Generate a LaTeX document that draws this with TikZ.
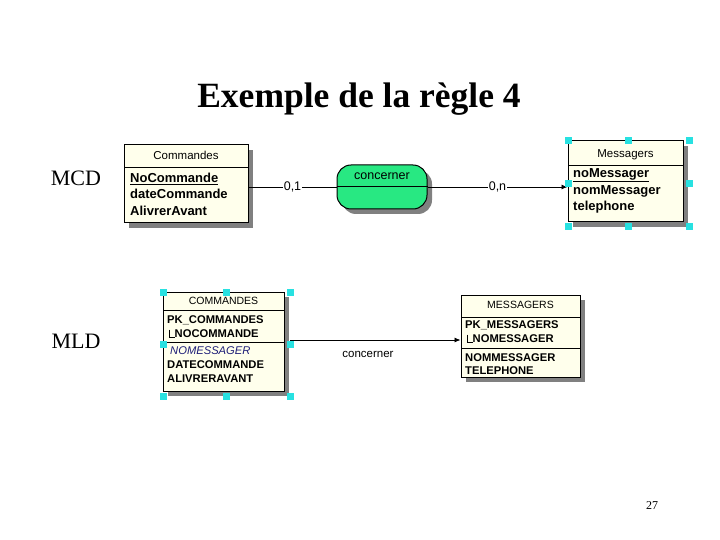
\documentclass[tikz,border=0pt]{standalone}
\usepackage{fontspec}
\setmainfont{Liberation Serif}
\newfontfamily\arial{Liberation Sans}
\usetikzlibrary{arrows.meta,shadows}

\definecolor{creme}{RGB}{255,255,236}
\definecolor{vertasso}{RGB}{40,232,130}
\definecolor{poignee}{RGB}{40,225,225}
\definecolor{bleufk}{RGB}{30,30,120}
\definecolor{gris}{RGB}{128,128,128}

\tikzset{
	ombre/.style={drop shadow={shadow xshift=5pt,shadow yshift=-5pt,fill=gris,opacity=1}},
	entite/.style={draw,fill=creme,line width=1pt,ombre,inner sep=0pt},
	association/.style={draw,fill=vertasso,line width=1pt,rounded corners=14pt,ombre,inner sep=0pt},
	titre/.style={anchor=base,inner sep=0pt,font=\arial\fontsize{11.5}{13}\selectfont},
	attr/.style={anchor=base west,inner sep=0pt,font=\arial\bfseries\fontsize{13}{15}\selectfont},
	col/.style={anchor=base west,inner sep=0pt,font=\arial\bfseries\fontsize{11.2}{13}\selectfont},
	card/.style={fill=white,inner sep=1pt,font=\arial\fontsize{12.5}{14}\selectfont},
	poign/.style={fill=poignee,minimum size=7pt,inner sep=0pt},
	lien/.style={line width=0.8pt},
}

\begin{document}
\begin{tikzpicture}[x=1pt,y=-1pt]
	\useasboundingbox[fill=white] (0,0) rectangle (720,540);

	\node[anchor=base](titre) at (359,108){\bfseries\fontsize{35.5}{38}\selectfont Exemple de la règle 4};
	\node[anchor=base](mcd) at (76,186){\fontsize{22}{24}\selectfont MCD};
	\node[anchor=base](mld) at (76,348){\fontsize{22}{24}\selectfont MLD};
	\node[anchor=base](page) at (652,509){\fontsize{12}{14}\selectfont 27};

	% MCD
	\node[entite,minimum width=124pt,minimum height=78pt](cmd) at (186,184){};
	\draw[line width=1pt] (124,168) -- (248,168);
	\node[titre](cmdT) at (186,160){Commandes};
	\node[attr](cmd1) at (130,182.5){\underline{NoCommande}};
	\node[attr](cmd2) at (130,199){dateCommande};
	\node[attr](cmd3) at (130,215.5){AlivrerAvant};

	\node[association,minimum width=90pt,minimum height=44pt](conc) at (382,187){};
	\draw[line width=1pt] (conc.west) -- (conc.east);
	\node[titre,font=\arial\fontsize{12.5}{14}\selectfont](concT) at (382,180){concerner};

	\node[entite,minimum width=115pt,minimum height=81pt](msg) at (625.5,181.5){};
	\draw[line width=1pt] (568,166) -- (683,166);
	\node[titre](msgT) at (625.5,157.5){Messagers};
	\node[attr](msg1) at (573,177.5){\underline{noMessager}};
	\node[attr](msg2) at (573,194.5){nomMessager};
	\node[attr](msg3) at (573,211){telephone};

	\draw[lien] (cmd.east |- conc.west) -- node[card]{0,1} (conc.west);
	\draw[lien,-{Latex[length=6pt,width=5pt]}] (conc.east) -- node[card]{0,n} (conc.east -| msg.west);

	\foreach \px/\py in {568/141,628/141,689/141,568/184,689/184,568/227,628/227,689/227}
		\node[poign] at (\px,\py){};

	% MLD
	\node[entite,minimum width=121pt,minimum height=99pt](tcmd) at (223.5,341.5){};
	\draw[line width=1.6pt] (163,310.5) -- (284,310.5);
	\draw[line width=1pt] (163,342) -- (284,342);
	\node[titre,font=\arial\fontsize{10.5}{12}\selectfont](tcmdT) at (223.5,304){COMMANDES};
	\node[col](tcmd1) at (167,323.5){PK\_COMMANDES};
	\node[col](tcmd2) at (174.5,337.5){NOCOMMANDE};
	\draw[line width=1pt] ([xshift=-5pt,yshift=8pt]tcmd2.base west) |- (tcmd2.base west);
	\node[col,font=\arial\itshape\fontsize{11.2}{13}\selectfont,text=bleufk](tcmd3) at (170,354.5){NOMESSAGER};
	\node[col](tcmd4) at (167,368.5){DATECOMMANDE};
	\node[col](tcmd5) at (167,382.5){ALIVRERAVANT};

	\node[entite,minimum width=119pt,minimum height=82pt](tmsg) at (520.5,336){};
	\draw[line width=1.6pt] (461,317.5) -- (580,317.5);
	\draw[line width=1pt] (461,348) -- (580,348);
	\node[titre,font=\arial\fontsize{10.5}{12}\selectfont](tmsgT) at (520.5,308.5){MESSAGERS};
	\node[col](tmsg1) at (465,328.5){PK\_MESSAGERS};
	\node[col](tmsg2) at (472.5,342.5){NOMESSAGER};
	\draw[line width=1pt] ([xshift=-5pt,yshift=8pt]tmsg2.base west) |- (tmsg2.base west);
	\node[col](tmsg3) at (465,361){NOMMESSAGER};
	\node[col](tmsg4) at (465,374){TELEPHONE};

	\coordinate(depart) at (290,340);
	\draw[lien,-{Latex[length=6pt,width=5pt]}] (depart) -- (depart -| tmsg.west);
	\node[anchor=base,font=\arial\fontsize{11.5}{13}\selectfont](lienT) at (368,357.5){concerner};

	\foreach \px/\py in {163/292,226/292,290/292,163/344,290/344,163/396,226/396,290/396}
		\node[poign] at (\px,\py){};
\end{tikzpicture}
\end{document}
